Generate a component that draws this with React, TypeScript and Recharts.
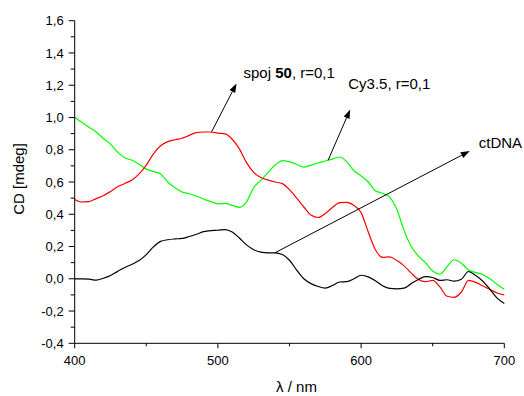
import { Line, LineChart, ReferenceLine, XAxis, YAxis } from "recharts";

const wavelengths = [
  400, 405, 410, 415, 420, 425, 430, 435, 440, 445, 450, 455, 460, 465, 470,
  475, 480, 485, 490, 495, 500, 505, 510, 515, 520, 525, 530, 535, 540, 545,
  550, 555, 560, 565, 570, 575, 580, 585, 590, 595, 600, 605, 610, 615, 620,
  625, 630, 635, 640, 645, 650, 655, 660, 665, 670, 675, 680, 685, 690, 695,
  700,
];

const cy35 = [
  1.0, 0.97, 0.94, 0.91, 0.87, 0.835, 0.785, 0.75, 0.735, 0.71, 0.68, 0.665,
  0.65, 0.6, 0.565, 0.538, 0.527, 0.513, 0.495, 0.478, 0.465, 0.467, 0.455,
  0.443, 0.477, 0.565, 0.61, 0.66, 0.705, 0.733, 0.725, 0.71, 0.692, 0.705,
  0.718, 0.73, 0.742, 0.755, 0.725, 0.67, 0.637, 0.6, 0.545, 0.53, 0.505, 0.43,
  0.3, 0.2, 0.14, 0.1, 0.048, 0.028, 0.075, 0.118, 0.096, 0.055, 0.038, 0.026,
  0.0, -0.035, -0.065,
];

const spoj50 = [
  0.492, 0.476, 0.478, 0.497, 0.515, 0.541, 0.57, 0.591, 0.612, 0.65, 0.705,
  0.775, 0.825, 0.85, 0.862, 0.871, 0.889, 0.906, 0.91, 0.91, 0.903, 0.898,
  0.865, 0.805, 0.72, 0.66, 0.628, 0.612, 0.6, 0.59, 0.553, 0.5, 0.445, 0.395,
  0.38, 0.405, 0.442, 0.472, 0.474, 0.455, 0.41, 0.29, 0.18, 0.133, 0.136,
  0.113, 0.08, 0.035, -0.005, -0.018, -0.01, -0.05, -0.108, -0.115, -0.082,
  -0.01, -0.022, -0.045, -0.066, -0.088, -0.1,
];

const ctDNA = [
  0.0, 0.0, -0.002, -0.008, 0.003, 0.02, 0.046, 0.07, 0.09, 0.113, 0.15, 0.198,
  0.232, 0.242, 0.247, 0.25, 0.262, 0.276, 0.292, 0.299, 0.301, 0.305, 0.29,
  0.253, 0.21, 0.18, 0.165, 0.161, 0.161, 0.15, 0.115, 0.054, 0.0, -0.03,
  -0.048, -0.058, -0.042, -0.02, -0.018, 0.0, 0.022, 0.012, -0.012, -0.043,
  -0.06, -0.063, -0.058, -0.03, -0.004, 0.013, 0.008, -0.01, -0.006, -0.015,
  -0.003, 0.045, 0.02, -0.015, -0.065, -0.12, -0.153,
];

const xTicks = [400, 450, 500, 550, 600, 650, 700];
const yTicks = [
  -0.4, -0.3, -0.2, -0.1, 0, 0.1, 0.2, 0.3, 0.4, 0.5, 0.6, 0.7, 0.8, 0.9, 1.0,
  1.1, 1.2, 1.3, 1.4, 1.5, 1.6,
];

// arrow start/end in data units
const arrowSpoj = [{ x: 495.6, y: 0.911 }, { x: 513, y: 1.211 }];
const arrowCy = [{ x: 577, y: 0.736 }, { x: 592.4, y: 1.05 }];
const arrowDna = [{ x: 539.8, y: 0.161 }, { x: 675.9, y: 0.792 }];

const data = wavelengths.map((w, i) => ({
  w,
  cy: cy35[i],
  spoj: spoj50[i],
  dna: ctDNA[i],
}));

const FONT = "Arial, 'Liberation Sans', sans-serif";

function XTick(props: any) {
  const { x, y, payload } = props;
  const major = payload.value % 100 === 0;
  return (
    <g>
      <line x1={x} x2={x} y1={y} y2={y + (major ? 5 : 3)} stroke="#000" />
      {major && (
        <text x={x} y={y + 21.5} textAnchor="middle" fontSize={13} fill="#000" fontFamily={FONT}>
          {payload.value}
        </text>
      )}
    </g>
  );
}

function YTick(props: any) {
  const { x, y, payload } = props;
  const major = Math.round(payload.value * 10) % 2 === 0;
  return (
    <g>
      <line x1={x - (major ? 6 : 4)} x2={x} y1={y} y2={y} stroke="#000" />
      {major && (
        <text x={x - 11} y={y} dy="0.35em" textAnchor="end" fontSize={13} fill="#000" fontFamily={FONT}>
          {payload.value.toFixed(1).replace(".", ",")}
        </text>
      )}
    </g>
  );
}

// arrow with a filled head, label placed relative to the tip
function arrowShape(label: React.ReactNode, dx: number, dy: number) {
  return (p: any) => {
    const { x1, y1, x2, y2 } = p;
    const a = Math.atan2(y2 - y1, x2 - x1);
    const len = 9;
    const hw = 3.2;
    const bx = x2 - len * Math.cos(a);
    const by = y2 - len * Math.sin(a);
    const px = -Math.sin(a) * hw;
    const py = Math.cos(a) * hw;
    return (
      <g>
        <line x1={x1} y1={y1} x2={bx} y2={by} stroke="#000" strokeWidth={1} />
        <polygon points={`${x2},${y2} ${bx + px},${by + py} ${bx - px},${by - py}`} fill="#000" />
        <text x={x2 + dx} y={y2 + dy} dy="0.35em" fontSize={15} fill="#000" fontFamily={FONT}>
          {label}
        </text>
      </g>
    );
  };
}

export default function App() {
  return (
    <div style={{ position: "absolute", left: 0, top: 0, background: "#fff" }}>
      <LineChart
        width={524}
        height={396}
        data={data}
        margin={{ top: 20.7, right: 19.7, bottom: 22.7, left: 14.7 }}
      >
        <XAxis
          dataKey="w"
          type="number"
          domain={[400, 700]}
          ticks={xTicks}
          tickSize={0}
          tickMargin={0}
          tick={<XTick />}
          height={30}
          axisLine={{ stroke: "#000" }}
          tickLine={false}
          label={{
            content: ({ viewBox }: any) => (
              <text
                x={viewBox.x + viewBox.width / 2 + 7}
                y={viewBox.y + 48.5}
                textAnchor="middle"
                fontSize={15}
                fill="#000"
                fontFamily={FONT}
              >
                λ / nm
              </text>
            ),
          }}
        />
        <YAxis
          type="number"
          domain={[-0.4, 1.6]}
          ticks={yTicks}
          tickSize={0}
          tickMargin={0}
          tick={<YTick />}
          width={60}
          axisLine={{ stroke: "#000" }}
          tickLine={false}
          interval={0}
          label={{
            content: ({ viewBox }: any) => {
              const cx = 19;
              const cy = viewBox.y + viewBox.height / 2 - 3;
              return (
                <text
                  x={cx}
                  y={cy}
                  transform={`rotate(-90 ${cx} ${cy})`}
                  textAnchor="middle"
                  dy="0.35em"
                  fontSize={15}
                  fill="#000"
                  fontFamily={FONT}
                >
                  CD [mdeg]
                </text>
              );
            },
          }}
        />
        <Line type="monotone" dataKey="cy" stroke="#00ff00" strokeWidth={1.2} dot={false} isAnimationActive={false} />
        <Line type="monotone" dataKey="spoj" stroke="#ff0000" strokeWidth={1.2} dot={false} isAnimationActive={false} />
        <Line type="monotone" dataKey="dna" stroke="#000000" strokeWidth={1.2} dot={false} isAnimationActive={false} />
        <ReferenceLine
          segment={arrowSpoj}
          shape={arrowShape(
            <>
              spoj <tspan fontWeight="bold">50</tspan>, r=0,1
            </>,
            7,
            -11
          )}
        />
        <ReferenceLine segment={arrowCy} shape={arrowShape("Cy3.5, r=0,1", -2, -26)} />
        <ReferenceLine segment={arrowDna} shape={arrowShape("ctDNA", 9, -8)} />
      </LineChart>
    </div>
  );
}
